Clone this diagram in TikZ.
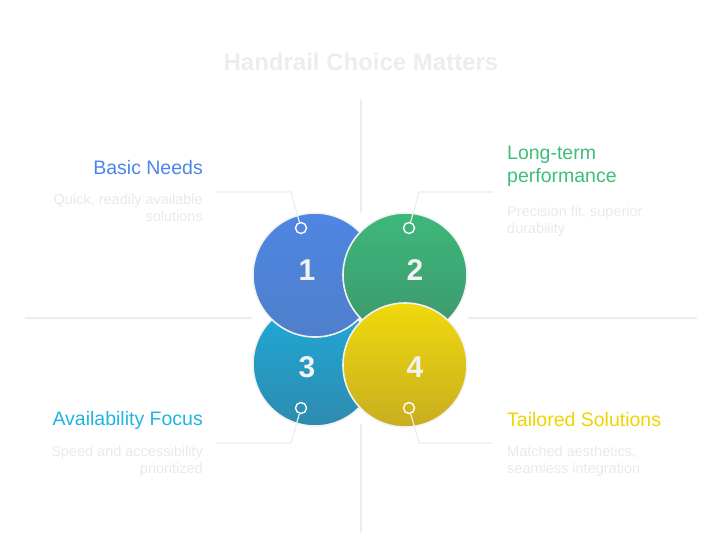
\documentclass[tikz,border=0pt]{standalone}
\usepackage{fontspec}
\setmainfont{Liberation Sans}
\usetikzlibrary{positioning,calc}
\definecolor{NeedBlue}{HTML}{4A86E8}
\definecolor{PerfGreen}{HTML}{3DBE7A}
\definecolor{FocusCyan}{HTML}{1EB4E6}
\definecolor{TailorYellow}{HTML}{F0D400}
\definecolor{GuideGray}{HTML}{EDEDED}
\definecolor{DescGray}{HTML}{E9E9E9}
\tikzset{
  petal/.style={circle, minimum size=124pt, inner sep=0pt, draw=white!95!black, line width=1.6pt},
  digit/.style={font=\bfseries\fontsize{30}{30}\selectfont, text=white!95!black, inner sep=0pt},
  pin/.style={circle, minimum size=11pt, inner sep=0pt, draw=white, line width=1.4pt},
  guide/.style={draw=GuideGray, line width=1.2pt},
  heading/.style={font=\fontsize{19.5}{23}\selectfont, inner sep=0pt},
  desc/.style={font=\fontsize{14.5}{17}\selectfont, text=DescGray, inner sep=0pt}
}
\begin{document}
\begin{tikzpicture}[x=1pt,y=-1pt]
    \useasboundingbox (0,0) rectangle (721,544);
    % cross guides
    \draw[guide] (361,100) -- (361,212);
    \draw[guide] (361,424) -- (361,532);
    \draw[guide] (25,318) -- (252,318);
    \draw[guide] (468,318) -- (697,318);

    \node[font=\bfseries\fontsize{24}{28}\selectfont, text=GuideGray] (title) at (361,62) {Handrail Choice Matters};

    % circles
    \node[petal, top color={rgb,255:red,30;green,170;blue,216}, bottom color={rgb,255:red,46;green,139;blue,174}] (c3) at (315,364) {};
    \node[petal, top color={rgb,255:red,79;green,134;blue,227}, bottom color={rgb,255:red,79;green,127;blue,203}] (c1) at (315,275) {};
    \node[petal, top color={rgb,255:red,61;green,184;blue,121}, bottom color={rgb,255:red,62;green,150;blue,110}] (c2) at (405,275) {};
    \node[petal, top color={rgb,255:red,240;green,217;blue,12}, bottom color={rgb,255:red,200;green,174;blue,32}] (c4) at (405,365) {};

    \node[digit] (n1) at (307,270) {1};
    \node[digit] (n2) at (415,270) {2};
    \node[digit] (n3) at (307,367) {3};
    \node[digit] (n4) at (415,367) {4};

    \node[pin] (p1) at (301,228) {};
    \node[pin] (p2) at (409,228) {};
    \node[pin] (p3) at (301,408) {};
    \node[pin] (p4) at (409,408) {};

    % leaders
    \coordinate (k1) at (291,192); \coordinate (e1) at (216,192);
    \coordinate (k2) at (419,192); \coordinate (e2) at (493,192);
    \coordinate (k3) at (291,443); \coordinate (e3) at (216,443);
    \coordinate (k4) at (419,443); \coordinate (e4) at (493,443);
    \draw[guide] (p1) -- (k1) -- (e1);
    \draw[guide] (p2) -- (k2) -- (e2);
    \draw[guide] (p3) -- (k3) -- (e3);
    \draw[guide] (p4) -- (k4) -- (e4);

    % labels
    \node[heading, text=NeedBlue, anchor=east] (h1) at (203,168) {Basic Needs};
    \node[desc, anchor=north east, align=right] (d1) at (203,194) {Quick, readily available\\solutions};
    \node[heading, text=PerfGreen, anchor=north west, align=left] (h2) at (507,146) {Long-term\\performance};
    \node[desc, anchor=north west, align=left] (d2) at (507,206) {Precision fit, superior\\durability};
    \node[heading, text=FocusCyan, anchor=east] (h3) at (203,420) {Availability Focus};
    \node[desc, anchor=north east, align=right] (d3) at (203,446) {Speed and accessibility\\prioritized};
    \node[heading, text=TailorYellow, anchor=west] (h4) at (507,420) {Tailored Solutions};
    \node[desc, anchor=north west, align=left] (d4) at (507,446) {Matched aesthetics,\\seamless integration};
\end{tikzpicture}
\end{document}
